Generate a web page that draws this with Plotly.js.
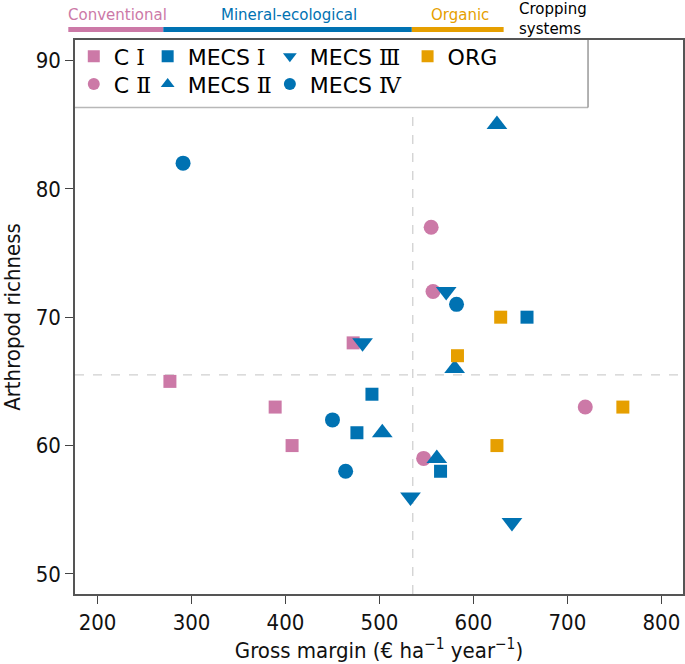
<!DOCTYPE html>
<html>
<head>
<meta charset="utf-8">
<script src="https://cdn.plot.ly/plotly-3.0.1.min.js"></script>
<style>html,body{margin:0;padding:0;background:#fff;}#chart{width:685px;height:664px;}</style>
</head>
<body>
<div id="chart"></div>
<script>
// ---- data ----
var seriesPrefix = ['C', 'C', 'MECS', 'MECS', 'MECS', 'MECS', 'ORG'];
var seriesNumeral = ['Ⅰ', 'Ⅱ', 'Ⅰ', 'Ⅱ', 'Ⅲ', 'Ⅳ', ''];
var ciX = [277, 389, 407, 472];
var ciY = [65, 63, 60, 68];
var ciiX = [555, 557, 547, 719];
var ciiY = [77, 72, 59, 63];
var mecs1X = [657, 492, 476, 565];
var mecs1Y = [70, 64, 61, 58];
var mecs2X = [625, 580, 503, 561];
var mecs2Y = [85, 66, 61, 59];
var mecs3X = [571, 482, 533, 641];
var mecs3Y = [72, 68, 56, 54];
var mecs4X = [291, 582, 450, 464];
var mecs4Y = [82, 71, 62, 58];
var orgX = [629, 583, 625, 759];
var orgY = [70, 67, 60, 63];
var groupLabels = ['Conventional', 'Mineral-ecological', 'Organic'];
var xTitle = 'Gross margin (€ ha<sup>−1</sup> year<sup>−1</sup>)';
var yTitle = 'Arthropod richness';
var sideLabel = 'Cropping<br>systems';

// ---- styles ----
var PINK = '#CC79A7', BLUE = '#0072B2', ORANGE = '#E69F00';
var FONT = 'DejaVu Sans Condensed, DejaVu Sans, sans-serif';
var LFONT = 'DejaVu Sans, sans-serif';

var xs = [ciX, ciiX, mecs1X, mecs2X, mecs3X, mecs4X, orgX];
var ys = [ciY, ciiY, mecs1Y, mecs2Y, mecs3Y, mecs4Y, orgY];
var colors = [PINK, PINK, BLUE, BLUE, BLUE, BLUE, ORANGE];
var symbols = ['square', 'circle', 'square', 'triangle-up', 'triangle-down', 'circle', 'square'];
var sizes = [13, 15, 13, 18, 18, 15, 13];
var legendIds = ['legend', 'legend2', 'legend3', 'legend4', 'legend5', 'legend6', 'legend7'];

function legendName(i) {
  var s = seriesPrefix[i];
  if (seriesNumeral[i]) {
    s += ' <span style="font-family:\'DejaVu Serif\', serif">' + seriesNumeral[i] + '</span>';
  }
  return s;
}

var traces = [];
for (var i = 0; i < seriesPrefix.length; i++) {
  traces.push({
    type: 'scatter', mode: 'markers', name: legendName(i),
    x: xs[i], y: ys[i], legend: legendIds[i],
    marker: {color: colors[i], symbol: symbols[i], size: sizes[i], line: {width: 0}},
    hoverinfo: 'x+y+name'
  });
}

// means of all points for the reference lines
var allX = [].concat.apply([], xs), allY = [].concat.apply([], ys);
var meanX = allX.reduce(function(a, b){return a + b;}, 0) / allX.length;
var meanY = allY.reduce(function(a, b){return a + b;}, 0) / allY.length;

function leg(x, y) {
  return {x: x, y: y, xanchor: 'left', yanchor: 'top', orientation: 'v',
    bgcolor: 'rgba(0,0,0,0)', borderwidth: 0, itemsizing: 'constant',
    font: {family: LFONT, size: 22, color: '#000'}};
}
var row1 = 1.008, row2 = 0.958;

var legBottom = 0.878, legRight = 0.8438;
var layout = {
  width: 685, height: 664,
  margin: {l: 75, r: 2, t: 40, b: 70, pad: 0},
  paper_bgcolor: '#fff', plot_bgcolor: '#fff',
  showlegend: true,
  font: {family: FONT, color: '#000'},
  xaxis: {
    range: [176, 823], dtick: 100, tick0: 0,
    ticks: 'outside', ticklen: 8, tickwidth: 1.2, tickcolor: '#444',
    showline: true, linecolor: '#555', linewidth: 1.5, mirror: true,
    showgrid: false, zeroline: false,
    tickfont: {family: FONT, size: 22, color: '#111'},
    title: {text: xTitle, font: {family: FONT, size: 22, color: '#111'}, standoff: 6}
  },
  yaxis: {
    range: [48.44, 91.59], dtick: 10, tick0: 0,
    ticks: 'outside', ticklen: 8, tickwidth: 1.2, tickcolor: '#444',
    showline: true, linecolor: '#555', linewidth: 1.5, mirror: true,
    showgrid: false, zeroline: false,
    tickfont: {family: FONT, size: 22, color: '#111'},
    title: {text: yTitle, font: {family: FONT, size: 22, color: '#111'}, standoff: 10}
  },
  legend: leg(-0.002, row1),
  legend2: leg(-0.002, row2),
  legend3: leg(0.1195, row1),
  legend4: leg(0.1195, row2),
  legend5: leg(0.3205, row1),
  legend6: leg(0.3205, row2),
  legend7: leg(0.547, row1),
  shapes: [
    {type: 'line', xref: 'x', yref: 'paper', x0: meanX, x1: meanX, y0: 0, y1: legBottom,
     line: {color: '#d0d0d0', width: 1.3, dash: 'dash'}, layer: 'below'},
    {type: 'line', xref: 'paper', yref: 'y', x0: 0, x1: 1, y0: meanY, y1: meanY,
     line: {color: '#d0d0d0', width: 1.3, dash: 'dash'}, layer: 'below'},
    // legend box edges
    {type: 'line', xref: 'paper', yref: 'paper', x0: 0, x1: legRight, y0: legBottom, y1: legBottom,
     line: {color: '#b8b8b8', width: 1.5}},
    {type: 'line', xref: 'paper', yref: 'paper', x0: legRight, x1: legRight, y0: legBottom, y1: 1,
     line: {color: '#999', width: 1.5}},
    // cropping-system bars
    {type: 'line', xref: 'paper', yref: 'paper', x0: -0.011, x1: 0.1452, y0: 1.0189, y1: 1.0189,
     line: {color: PINK, width: 5}},
    {type: 'line', xref: 'paper', yref: 'paper', x0: 0.1452, x1: 0.554, y0: 1.0189, y1: 1.0189,
     line: {color: BLUE, width: 5}},
    {type: 'line', xref: 'paper', yref: 'paper', x0: 0.554, x1: 0.705, y0: 1.0189, y1: 1.0189,
     line: {color: ORANGE, width: 5}}
  ],
  annotations: [
    {text: groupLabels[0], xref: 'paper', yref: 'paper', x: 0.0699, y: 1.046, xanchor: 'center', yanchor: 'middle',
     showarrow: false, font: {family: LFONT, size: 15, color: PINK}},
    {text: groupLabels[1], xref: 'paper', yref: 'paper', x: 0.3512, y: 1.046, xanchor: 'center', yanchor: 'middle',
     showarrow: false, font: {family: LFONT, size: 15, color: BLUE}},
    {text: groupLabels[2], xref: 'paper', yref: 'paper', x: 0.6332, y: 1.046, xanchor: 'center', yanchor: 'middle',
     showarrow: false, font: {family: LFONT, size: 15, color: ORANGE}},
    {text: sideLabel, xref: 'paper', yref: 'paper', x: 0.7276, y: 1.0375, xanchor: 'left', yanchor: 'middle', align: 'left',
     showarrow: false, font: {family: LFONT, size: 15, color: '#000'}}
  ]
};

Plotly.newPlot('chart', traces, layout, {displayModeBar: false, responsive: false});
</script>
</body>
</html>
